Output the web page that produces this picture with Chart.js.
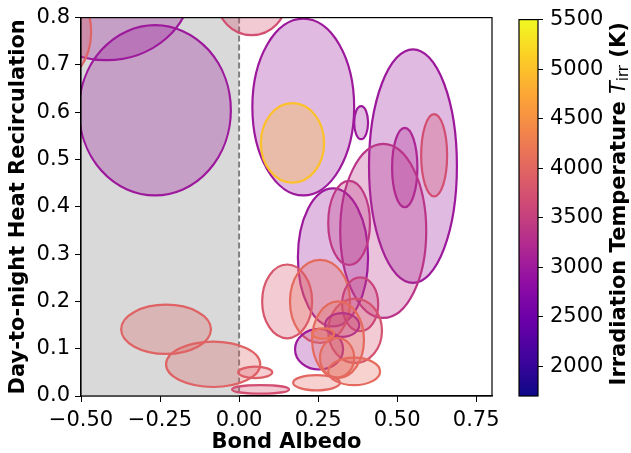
<!DOCTYPE html>
<html>
<head>
<meta charset="utf-8">
<script src="https://cdn.jsdelivr.net/npm/chart.js@4.4.1/dist/chart.umd.min.js"></script>
<style>
  html, body { margin: 0; background: #fff; }
  #wrap { position: relative; width: 631px; height: 453px; overflow: hidden; }
  canvas { position: absolute; top: 0; }
  #main { left: 0; }
  #cbar { left: 500px; }
</style>
</head>
<body>
<div id="wrap">
  <canvas id="main" width="530" height="453"></canvas>
  <canvas id="cbar" width="131" height="453"></canvas>
</div>
<script>
// ========== Data ==========
// one ellipse per planet: centre (Bond albedo, recirculation), half-widths, T_irr
const centerX    = [-0.266, -0.42, -0.62, 0.04, 0.203, 0.169, 0.386, 0.55, 0.524, 0.617, 0.456, 0.297, 0.348, 0.152, 0.256, 0.383, 0.367, 0.326, 0.253, 0.313, 0.310, 0.266, 0.364, 0.245, -0.231, -0.082, 0.051, 0.068];
const centerY    = [0.604, 0.87, 0.77, 0.84, 0.611, 0.535, 0.578, 0.486, 0.483, 0.509, 0.349, 0.293, 0.366, 0.200, 0.200, 0.194, 0.138, 0.150, 0.099, 0.119, 0.081, 0.132, 0.052, 0.028, 0.141, 0.067, 0.050, 0.014];
const halfWidth  = [0.24, 0.27, 0.152, 0.111, 0.161, 0.10, 0.022, 0.139, 0.040, 0.041, 0.136, 0.111, 0.066, 0.079, 0.095, 0.057, 0.085, 0.054, 0.076, 0.082, 0.054, 0.035, 0.082, 0.074, 0.142, 0.149, 0.054, 0.090];
const halfHeight = [0.18, 0.16, 0.12, 0.077, 0.187, 0.084, 0.035, 0.247, 0.084, 0.087, 0.184, 0.146, 0.089, 0.078, 0.088, 0.057, 0.068, 0.025, 0.043, 0.081, 0.042, 0.011, 0.029, 0.016, 0.052, 0.048, 0.012, 0.009];
const tIrr       = [3000, 3000, 3950, 3700, 3000, 5000, 3000, 3000, 3150, 3700, 3350, 3000, 3400, 3800, 4050, 3550, 3750, 3050, 3000, 4050, 4050, 4150, 4050, 4000, 3950, 3950, 3900, 3700];

const xTicks = [-0.5, -0.25, 0, 0.25, 0.5, 0.75];
const yTicks = [0, 0.1, 0.2, 0.3, 0.4, 0.5, 0.6, 0.7, 0.8];
const cbarTicks = [2000, 2500, 3000, 3500, 4000, 4500, 5000, 5500];
const tMin = 1700, tMax = 5500;
const shadeFrom = -0.5, shadeTo = 0;

const FAMILY = '"DejaVu Sans", sans-serif';
const plasmaStops = ['#0d0887', '#41049d', '#6a00a8', '#8f0da4', '#b12a90', '#cc4778',
                     '#e16462', '#f2844b', '#fca636', '#fcce25', '#f0f921'];

// ---------- helpers ----------
function hexRgb(h) {
  return [parseInt(h.slice(1, 3), 16), parseInt(h.slice(3, 5), 16), parseInt(h.slice(5, 7), 16)];
}

function plasma(f) {
  f = Math.min(1, Math.max(0, f));
  const pos = f * (plasmaStops.length - 1);
  const i = Math.min(Math.floor(pos), plasmaStops.length - 2);
  const t = pos - i;
  const a = hexRgb(plasmaStops[i]), b = hexRgb(plasmaStops[i + 1]);
  return a.map((v, k) => Math.round(v + (b[k] - v) * t));
}

function fmt(v, d) {
  const s = Math.abs(v).toFixed(d);
  return v < -1e-9 ? '\u2212' + s : s;
}

// ---------- main plot plugin ----------
const ellipsePlugin = {
  id: 'albedoEllipses',
  beforeDatasetsDraw(chart) {
    const { ctx, chartArea: a, scales: { x } } = chart;
    const x0 = x.getPixelForValue(shadeFrom), x1 = x.getPixelForValue(shadeTo);
    ctx.save();
    ctx.fillStyle = '#d9d9d9';
    ctx.fillRect(x0, a.top, x1 - x0, a.bottom - a.top);
    ctx.setLineDash([6, 3]);
    ctx.strokeStyle = '#808080';
    ctx.lineWidth = 2;
    ctx.beginPath();
    ctx.moveTo(x1, a.top);
    ctx.lineTo(x1, a.bottom);
    ctx.stroke();
    ctx.restore();
  },
  afterDatasetsDraw(chart) {
    const { ctx, chartArea: a, scales: { x, y } } = chart;
    ctx.save();
    ctx.beginPath();
    ctx.rect(a.left, a.top, a.right - a.left, a.bottom - a.top);
    ctx.clip();
    centerX.forEach((cx, i) => {
      const px = x.getPixelForValue(cx);
      const py = y.getPixelForValue(centerY[i]);
      const rx = Math.abs(x.getPixelForValue(cx + halfWidth[i]) - px);
      const ry = Math.abs(y.getPixelForValue(centerY[i] + halfHeight[i]) - py);
      const [r, g, b] = plasma((tIrr[i] - tMin) / (tMax - tMin));
      ctx.beginPath();
      ctx.ellipse(px, py, rx, ry, 0, 0, 2 * Math.PI);
      ctx.fillStyle = `rgba(${r},${g},${b},0.3)`;
      ctx.fill();
      ctx.strokeStyle = `rgb(${r},${g},${b})`;
      ctx.lineWidth = 2.2;
      ctx.stroke();
    });
    ctx.restore();
  },
  afterDraw(chart) {
    const { ctx, chartArea: a } = chart;
    ctx.save();
    ctx.strokeStyle = '#000';
    ctx.lineWidth = 1.2;
    ctx.strokeRect(a.left, a.top, a.right - a.left, a.bottom - a.top);
    ctx.restore();
  }
};

const axisFont = { family: FAMILY, size: 21 };
const titleFont = { family: FAMILY, size: 21, weight: 'bold' };

new Chart(document.getElementById('main'), {
  type: 'scatter',
  data: {
    datasets: [{
      data: centerX.map((cx, i) => ({ x: cx, y: centerY[i] })),
      pointRadius: 0,
      pointHoverRadius: 0
    }]
  },
  options: {
    responsive: false,
    animation: false,
    events: [],
    layout: { padding: { top: 11, right: 38, left: 0, bottom: 0 } },
    plugins: { legend: { display: false }, tooltip: { enabled: false } },
    scales: {
      x: {
        type: 'linear', min: -0.5, max: 0.8,
        afterBuildTicks: s => { s.ticks = xTicks.map(v => ({ value: v })); },
        afterFit: s => { s.height = 57; },
        ticks: { color: '#000', font: axisFont, padding: 6, maxRotation: 0, autoSkip: false, callback: v => fmt(v, 2) },
        grid: { drawOnChartArea: false, tickLength: 6, color: '#000' },
        border: { color: '#000', width: 1.2 },
        title: { display: true, text: 'Bond Albedo', color: '#000', font: titleFont, padding: { top: 0, bottom: -2 } }
      },
      y: {
        type: 'linear', min: 0, max: 0.8,
        afterBuildTicks: s => { s.ticks = yTicks.map(v => ({ value: v })); },
        afterFit: s => { s.width = 81; },
        ticks: { color: '#000', font: axisFont, padding: 5, autoSkip: false, callback: v => fmt(v, 1) },
        grid: { drawOnChartArea: false, tickLength: 6, color: '#000' },
        border: { color: '#000', width: 1.2 },
        title: { display: true, text: 'Day-to-night Heat Recirculation', color: '#000', font: titleFont, padding: { top: 6, bottom: 0 } }
      }
    }
  },
  plugins: [ellipsePlugin]
});

// ---------- colour bar ----------
const cbarPlugin = {
  id: 'cbarFrame',
  afterDatasetsDraw(chart) {
    const { ctx, chartArea: a } = chart;
    ctx.save();
    ctx.strokeStyle = '#000';
    ctx.lineWidth = 1.2;
    ctx.strokeRect(a.left, a.top, a.right - a.left, a.bottom - a.top);
    ctx.restore();
  },
  afterDraw(chart) {
    const { ctx, chartArea: a } = chart;
    const parts = [
      { text: 'Irradiation Temperature ', font: `bold 21px ${FAMILY}`, dy: 0 },
      { text: 'T', font: `italic 21px ${FAMILY}`, dy: 0 },
      { text: 'irr', font: `15px ${FAMILY}`, dy: 4 },
      { text: ' (K)', font: `bold 21px ${FAMILY}`, dy: 0 }
    ];
    ctx.save();
    let total = 0;
    parts.forEach(p => { ctx.font = p.font; p.w = ctx.measureText(p.text).width; total += p.w; });
    ctx.translate(120, (a.top + a.bottom) / 2 - 4);
    ctx.rotate(-Math.PI / 2);
    ctx.fillStyle = '#000';
    ctx.textBaseline = 'middle';
    let cur = -total / 2;
    parts.forEach(p => {
      ctx.font = p.font;
      ctx.fillText(p.text, cur, p.dy);
      cur += p.w;
    });
    ctx.restore();
  }
};

new Chart(document.getElementById('cbar'), {
  type: 'bar',
  data: {
    labels: [''],
    datasets: [{
      data: [[tMin, tMax]],
      barPercentage: 1,
      categoryPercentage: 1,
      borderWidth: 0,
      backgroundColor: c => {
        const { ctx, chartArea } = c.chart;
        if (!chartArea) return plasmaStops[5];
        const g = ctx.createLinearGradient(0, chartArea.bottom, 0, chartArea.top);
        plasmaStops.forEach((col, i) => g.addColorStop(i / (plasmaStops.length - 1), col));
        return g;
      }
    }]
  },
  options: {
    responsive: false,
    animation: false,
    events: [],
    layout: { padding: { top: 12, bottom: 57, left: 19, right: 0 } },
    plugins: { legend: { display: false }, tooltip: { enabled: false } },
    scales: {
      x: { display: false },
      y: {
        position: 'right', min: tMin, max: tMax,
        afterBuildTicks: s => { s.ticks = cbarTicks.map(v => ({ value: v })); },
        afterFit: s => { s.width = 93; },
        ticks: { color: '#000', font: axisFont, padding: 7, autoSkip: false, callback: v => String(v) },
        grid: { drawOnChartArea: false, tickLength: 5, color: '#000' },
        border: { display: false }
      }
    }
  },
  plugins: [cbarPlugin]
});
</script>
</body>
</html>
